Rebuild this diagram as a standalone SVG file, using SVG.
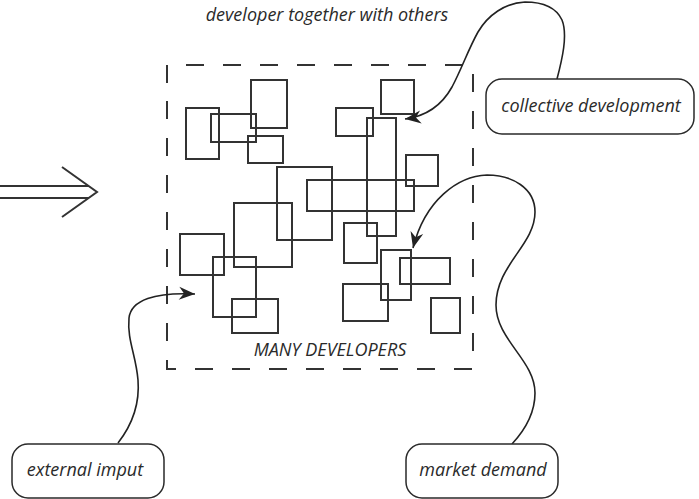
<svg xmlns="http://www.w3.org/2000/svg" width="699" height="499" viewBox="0 0 699 499">
  <style>
    .dev { fill: none; stroke: #333; stroke-width: 2; }
    .frame { fill: none; stroke: #333; stroke-width: 2; stroke-dasharray: 18 19; }
    .box { fill: #fff; stroke: #2a2a2a; stroke-width: 1.5; }
    .wire { fill: none; stroke: #222; stroke-width: 1.6; }
    .lbl { font-family: "Open Sans", "Noto Sans", sans-serif; font-style: italic; fill: #2a2a2a; font-size: 18px; }
  </style>
  <defs>
    <marker id="barb" markerUnits="userSpaceOnUse" markerWidth="20" markerHeight="16" viewBox="-17 -8 19 16" refX="0" refY="0" orient="auto">
      <path d="M0,0 L-16,-6.5 L-11,0 L-16,6.5 Z" fill="#222"/>
    </marker>
  </defs>

  <rect width="699" height="499" fill="#fff"/>

  <!-- caption above the group -->
  <text class="lbl" x="327" y="21" text-anchor="middle">developer together with others</text>

  <!-- incoming double arrow -->
  <g id="input-arrow" fill="none" stroke="#333" stroke-width="2">
    <line x1="0" y1="186" x2="89" y2="186"/>
    <line x1="0" y1="198" x2="89" y2="198"/>
    <polyline points="62,167 97,192 62,217"/>
  </g>

  <!-- group of many developers -->
  <g id="many-developers">
    <path class="frame" d="M167,83 V65 H473 V369 H167 Z"/>
    <g id="developers">
      <rect class="dev" x="251" y="80" width="36" height="48"/>
      <rect class="dev" x="186" y="108" width="33" height="51"/>
      <rect class="dev" x="211" y="114" width="45" height="28"/>
      <rect class="dev" x="248" y="136" width="35" height="27"/>
      <rect class="dev" x="381" y="80" width="33" height="34"/>
      <rect class="dev" x="336" y="108" width="37" height="28"/>
      <rect class="dev" x="367" y="118" width="29" height="118"/>
      <rect class="dev" x="406" y="155" width="32" height="31"/>
      <rect class="dev" x="277" y="167" width="55" height="73"/>
      <rect class="dev" x="307" y="180" width="107" height="31"/>
      <rect class="dev" x="234" y="203" width="58" height="64"/>
      <rect class="dev" x="344" y="223" width="33" height="40"/>
      <rect class="dev" x="180" y="234" width="44" height="41"/>
      <rect class="dev" x="213" y="257" width="43" height="60"/>
      <rect class="dev" x="232" y="299" width="46" height="34"/>
      <rect class="dev" x="381" y="250" width="30" height="50"/>
      <rect class="dev" x="400" y="258" width="50" height="26"/>
      <rect class="dev" x="343" y="284" width="45" height="37"/>
      <rect class="dev" x="431" y="298" width="29" height="35"/>
    </g>
    <text class="lbl" x="330" y="356" text-anchor="middle">MANY DEVELOPERS</text>
  </g>

  <!-- connectors -->
  <g id="connectors">
    <path class="wire" marker-end="url(#barb)" d="M557,79 C562,60 568,35 562,20 C555,5 540,2 525,2 C505,3 488,15 478,32 C468,50 462,68 452,87 C442,105 428,116 405,119"/>
    <path class="wire" marker-end="url(#barb)" d="M512,444 C525,430 535,412 535,393 C535,360 496,340 496,305 C496,265 535,245 535,212 C535,188 512,175 487,175 C458,176 425,200 413,248"/>
    <path class="wire" marker-end="url(#barb)" d="M118,443 C132,425 140,405 138,380 C136,355 127,340 129,318 C131,300 155,292 195,294"/>
  </g>

  <!-- influences -->
  <g id="collective-development">
    <rect class="box" x="486" y="79" width="208" height="55" rx="16"/>
    <text class="lbl" x="591" y="112" text-anchor="middle">collective development</text>
  </g>
  <g id="external-imput">
    <rect class="box" x="12" y="444" width="152" height="54" rx="16"/>
    <text class="lbl" x="85" y="476" text-anchor="middle">external imput</text>
  </g>
  <g id="market-demand">
    <rect class="box" x="406" y="444" width="152" height="54" rx="16"/>
    <text class="lbl" x="483" y="476" text-anchor="middle">market demand</text>
  </g>
</svg>
